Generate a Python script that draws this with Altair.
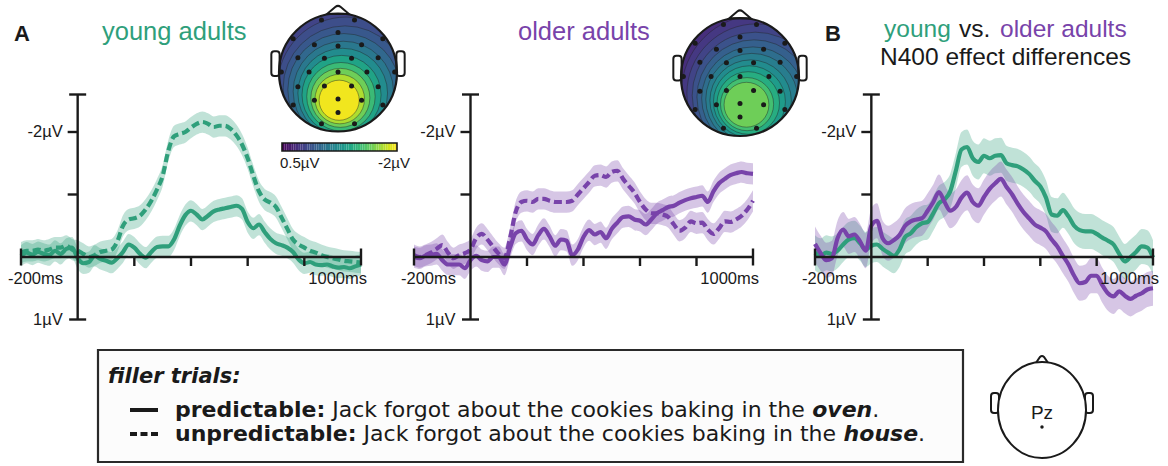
import math

import altair as alt
import numpy as np
import pandas as pd

# ------------------------------------------------------------------
# ERP data at Pz (µV, negative plotted upward), sampled every 20 ms
# ------------------------------------------------------------------
TIMES = list(range(-200, 1001, 20))

young_predictable = [
    -0.02, -0.07, -0.04, -0.08, -0.05, -0.03, -0.10, -0.05, -0.13, -0.15,
    0.02, 0.10, 0.08, -0.02, 0.03, 0.06, 0.09, 0.02, -0.08, -0.20,
    -0.15, -0.05, 0.01, -0.08, -0.16, -0.17, -0.17, -0.28, -0.50, -0.67,
    -0.74, -0.68, -0.60, -0.66, -0.73, -0.76, -0.78, -0.80, -0.82, -0.77,
    -0.56, -0.46, -0.52, -0.40, -0.29, -0.22, -0.19, -0.15, -0.08, 0.04,
    0.10, 0.08, 0.12, 0.13, 0.12, 0.15, 0.17, 0.16, 0.18, 0.15,
    0.12,
]
young_unpredictable = [
    -0.07, -0.10, -0.10, -0.12, -0.10, -0.12, -0.15, -0.15, -0.18, -0.12,
    -0.10, -0.05, 0.00, -0.03, -0.08, -0.10, -0.12, -0.25, -0.50, -0.60,
    -0.62, -0.66, -0.76, -0.90, -1.08, -1.30, -1.70, -1.93, -1.97, -2.00,
    -2.07, -2.13, -2.16, -2.13, -2.08, -2.10, -2.10, -2.05, -1.95, -1.80,
    -1.58, -1.30, -1.05, -0.92, -0.87, -0.80, -0.63, -0.45, -0.28, -0.20,
    -0.15, -0.10, -0.07, -0.03, 0.00, 0.02, 0.04, 0.06, 0.07, 0.08,
    0.09,
]
older_predictable = [
    0.00, 0.02, -0.02, -0.03, -0.05, 0.05, 0.12, 0.12, 0.12, 0.18,
    0.05, -0.02, 0.05, 0.07, 0.00, 0.00, 0.12, -0.15, -0.38, -0.42,
    -0.28, -0.20, -0.35, -0.45, -0.33, -0.18, -0.28, -0.26, -0.03, -0.12,
    -0.32, -0.43, -0.36, -0.40, -0.30, -0.45, -0.55, -0.64, -0.65, -0.60,
    -0.58, -0.52, -0.60, -0.70, -0.75, -0.80, -0.82, -0.87, -0.91, -0.94,
    -0.96, -0.98, -0.88, -1.05, -1.18, -1.25, -1.31, -1.34, -1.36, -1.34,
    -1.33,
]
older_unpredictable = [
    -0.03, 0.00, -0.03, -0.07, -0.13, -0.19, -0.07, 0.02, -0.03, -0.06,
    -0.12, -0.30, -0.37, -0.28, -0.16, -0.05, 0.02, -0.30, -0.72, -0.88,
    -0.90, -0.88, -0.93, -0.93, -0.90, -0.88, -0.88, -0.88, -0.90, -1.00,
    -1.10, -1.20, -1.30, -1.31, -1.28, -1.36, -1.38, -1.25, -1.14, -1.03,
    -0.88, -0.76, -0.70, -0.70, -0.68, -0.64, -0.52, -0.42, -0.47, -0.57,
    -0.54, -0.55, -0.44, -0.37, -0.46, -0.57, -0.56, -0.60, -0.66, -0.76,
    -0.90,
]
# N400 effect (unpredictable minus predictable) per age group
young_effect = [
    -0.07, -0.02, -0.07, -0.05, -0.10, -0.20, -0.28, -0.30, -0.22, -0.12,
    -0.18, -0.20, -0.13, -0.07, -0.02, -0.12, -0.32, -0.38, -0.48, -0.54,
    -0.56, -0.70, -0.86, -0.92, -1.05, -1.38, -1.72, -1.76, -1.58, -1.52,
    -1.62, -1.58, -1.62, -1.63, -1.50, -1.47, -1.45, -1.40, -1.33, -1.22,
    -1.13, -0.95, -0.68, -0.66, -0.75, -0.65, -0.50, -0.43, -0.41, -0.41,
    -0.37, -0.31, -0.26, -0.20, -0.05, 0.07, 0.00, -0.08, -0.17, -0.15,
    0.01,
]
older_effect = [
    -0.21, -0.06, 0.05, 0.02, -0.30, -0.44, -0.33, -0.36, -0.25, -0.10,
    -0.50, -0.58, -0.30, -0.22, -0.27, -0.35, -0.50, -0.57, -0.60, -0.62,
    -0.74, -0.88, -1.04, -0.88, -0.74, -0.80, -0.95, -1.03, -0.88, -0.82,
    -0.96, -1.09, -1.18, -1.25, -1.12, -1.00, -0.85, -0.72, -0.62, -0.52,
    -0.47, -0.41, -0.28, -0.17, -0.02, 0.12, 0.30, 0.42, 0.40, 0.30,
    0.30, 0.45, 0.58, 0.63, 0.55, 0.62, 0.67, 0.62, 0.58, 0.52,
    0.50,
]
# half-width of the shaded confidence bands (µV)
CI_CONDITION = 0.17
CI_EFFECT = 0.28

# ------------------------------------------------------------------
# Scalp maps (N400 window): electrode layout and contour rings,
# in head units (radius 1, y pointing towards the back of the head)
# ------------------------------------------------------------------
ELEC_X = [-0.28, 0.28, -0.76, 0.00, 0.76, -0.40, 0.00, 0.40, -0.68, -0.23,
          0.23, 0.68, -0.96, -0.49, 0.00, 0.49, 0.96, -0.68, -0.23, 0.23,
          0.68, -0.40, 0.00, 0.40, -0.76, 0.76, 0.00, -0.28, 0.28]
ELEC_Y = [-0.89, -0.89, -0.57, -0.68, -0.57, -0.47, -0.45, -0.47, -0.25, -0.24,
          -0.24, -0.25, -0.01, -0.01, -0.01, -0.01, -0.01, 0.24, 0.23, 0.23,
          0.24, 0.47, 0.45, 0.47, 0.55, 0.55, 0.68, 0.87, 0.87]

YOUNG_MAP_LEVEL = [0.10, 0.05, 0.00, -0.08, -0.18, -0.33, -0.50, -0.70, -0.95,
                   -1.20, -1.45, -1.70, -1.95]
YOUNG_MAP_RADIUS = [1.50, 1.38, 1.27, 1.16, 1.05, 0.95, 0.85, 0.76, 0.67, 0.58,
                    0.50, 0.42, 0.34]
YOUNG_MAP_CX = [0.20, 0.18, 0.16, 0.14, 0.12, 0.10, 0.09, 0.08, 0.06, 0.05,
                0.04, 0.03, 0.02]
YOUNG_MAP_CY = [0.10, 0.14, 0.18, 0.22, 0.26, 0.29, 0.32, 0.35, 0.38, 0.41,
                0.43, 0.45, 0.47]

OLDER_MAP_LEVEL = [0.25, 0.175, 0.10, 0.00, -0.125, -0.25, -0.40, -0.55, -0.70,
                   -0.875, -1.05, -1.25, -1.45]
OLDER_MAP_RADIUS = [1.55, 1.42, 1.30, 1.18, 1.07, 0.97, 0.87, 0.78, 0.69, 0.61,
                    0.53, 0.45, 0.38]
OLDER_MAP_CX = [0.35, 0.33, 0.31, 0.28, 0.26, 0.24, 0.22, 0.20, 0.18, 0.16,
                0.14, 0.12, 0.11]
OLDER_MAP_CY = [0.20, 0.22, 0.25, 0.28, 0.31, 0.34, 0.36, 0.38, 0.40, 0.42,
                0.44, 0.46, 0.47]

MAP_RANGE = [0.5, -2.0]  # colour bar limits (µV)

# ------------------------------------------------------------------
# Styling and layout
# ------------------------------------------------------------------
GREEN = "#2f9f7b"
PURPLE = "#7843aa"
INK = "#1a1a1a"
FONT = "Liberation Sans"
LEGEND_FONT = "DejaVu Sans"

H_TOP = 338
H_BOTTOM = 128
Y0_PX = 257          # pixel row of 0 µV
PX_PER_UV = 62.5
HEAD_R = 59

ONE = pd.DataFrame({"k": [0]})
VOLT = alt.Scale(domain=[-Y0_PX / PX_PER_UV, (H_TOP - Y0_PX) / PX_PER_UV],
                 range=[0, H_TOP], nice=False, zero=False)
MAP_COLOR = alt.Scale(scheme="viridis", domain=MAP_RANGE, nice=False)


def time_scale(x0, width, px_left, px_right):
    """Linear ms scale placing -200 ms and 1000 ms at the given pixels."""
    ppm = (px_right - px_left) / 1200.0
    d0 = -200 - (px_left - x0) / ppm
    return alt.Scale(domain=[d0, d0 + width / ppm], nice=False, zero=False)


def erp_layers(xs, series):
    X = alt.X("t:Q", scale=xs, axis=None)
    frames = []
    for values, ci, color, dashed in series:
        df = pd.DataFrame({"t": TIMES, "v": values})
        df["lo"] = df["v"] - ci
        df["hi"] = df["v"] + ci
        frames.append((df, color, dashed))

    layers = []
    for df, color, _ in frames:
        layers.append(
            alt.Chart(df).mark_area(color=color, opacity=0.3, interpolate="monotone")
            .encode(x=X, y=alt.Y("lo:Q", scale=VOLT, axis=None), y2="hi:Q")
        )
    for df, color, dashed in frames:
        style = dict(color=color, strokeWidth=4.2, interpolate="monotone")
        if dashed:
            style["strokeDash"] = [8, 4]
        layers.append(
            alt.Chart(df).mark_line(**style)
            .encode(x=X, y=alt.Y("v:Q", scale=VOLT, axis=None))
        )

    # hand-drawn axes crossing at (0 ms, 0 µV)
    Y = lambda f: alt.Y(f, type="quantitative", scale=VOLT, axis=None)
    layers.append(
        alt.Chart(pd.DataFrame({"t": [-200], "t2": [1000], "v": [0.0]}))
        .mark_rule(color=INK, strokeWidth=2.4)
        .encode(x=X, x2="t2:Q", y=Y("v"))
    )
    layers.append(
        alt.Chart(pd.DataFrame({"t": [0], "v": [-2.6], "v2": [1.0]}))
        .mark_rule(color=INK, strokeWidth=2.4)
        .encode(x=X, y=Y("v"), y2="v2:Q")
    )
    layers.append(
        alt.Chart(pd.DataFrame({"t": [200, 400, 600, 800], "v": [0.0] * 4}))
        .mark_tick(orient="vertical", size=9, thickness=2.4, yOffset=4.5,
                   color=INK, opacity=1)
        .encode(x=X, y=Y("v"))
    )
    layers.append(
        alt.Chart(pd.DataFrame({"t": [-200, 1000], "v": [0.0, 0.0]}))
        .mark_tick(orient="vertical", size=17, thickness=2.4, color=INK, opacity=1)
        .encode(x=X, y=Y("v"))
    )
    layers.append(
        alt.Chart(pd.DataFrame({"t": [0, 0], "v": [-2.0, -1.0]}))
        .mark_tick(orient="horizontal", size=10, thickness=2.4, xOffset=-5,
                   color=INK, opacity=1)
        .encode(x=X, y=Y("v"))
    )
    layers.append(
        alt.Chart(pd.DataFrame({"t": [0, 0], "v": [-2.6, 1.0]}))
        .mark_tick(orient="horizontal", size=17, thickness=2.4, color=INK, opacity=1)
        .encode(x=X, y=Y("v"))
    )
    # tick labels
    layers.append(
        alt.Chart(pd.DataFrame({"t": [-200], "v": [0.0], "lab": ["-200ms"]}))
        .mark_text(align="left", baseline="middle", dx=-13, dy=22, font=FONT,
                   fontSize=16.5, color=INK)
        .encode(x=X, y=Y("v"), text="lab:N")
    )
    layers.append(
        alt.Chart(pd.DataFrame({"t": [1000], "v": [0.0], "lab": ["1000ms"]}))
        .mark_text(align="right", baseline="middle", dx=6, dy=22, font=FONT,
                   fontSize=16.5, color=INK)
        .encode(x=X, y=Y("v"), text="lab:N")
    )
    layers.append(
        alt.Chart(pd.DataFrame({"t": [0, 0], "v": [-2.0, 1.0],
                                "lab": ["-2\u00b5V", "1\u00b5V"]}))
        .mark_text(align="right", baseline="middle", dx=-15, font=FONT,
                   fontSize=16.5, color=INK)
        .encode(x=X, y=Y("v"), text="lab:N")
    )
    return layers


NOSE = "M -1 0.35 L -0.25 -0.3 Q 0 -0.5 0.25 -0.3 L 1 0.35 Z"


def scalp_map_layers(cx, cy, level, radius, ccx, ccy):
    hxs = alt.Scale(domain=[-1, 1], range=[cx - HEAD_R, cx + HEAD_R], nice=False, zero=False)
    hys = alt.Scale(domain=[-1, 1], range=[cy - HEAD_R, cy + HEAD_R], nice=False, zero=False)
    HX = lambda f: alt.X(f, type="quantitative", scale=hxs, axis=None)
    HY = lambda f: alt.Y(f, type="quantitative", scale=hys, axis=None)

    rings = pd.DataFrame({
        "k": list(range(len(level))),
        "hx": ccx, "hy": ccy, "level": level,
        "size": [(2 * r * HEAD_R) ** 2 for r in radius],
    })
    centre = pd.DataFrame({"hx": [0.0], "hy": [0.0]})
    ears = pd.DataFrame({"x1": [-1.13, 0.99], "x2": [-0.99, 1.13],
                         "y1": [-0.36, -0.36], "y2": [0.06, 0.06]})
    nose = pd.DataFrame({"hx": [0.0], "hy": [-1.055]})
    elec = pd.DataFrame({"hx": ELEC_X, "hy": ELEC_Y})

    return [
        alt.Chart(rings).mark_circle(opacity=1, stroke="#222", strokeWidth=0.8,
                                     strokeOpacity=0.55, clip=True)
        .encode(x=HX("hx"), y=HY("hy"), size=alt.Size("size:Q", scale=None),
                color=alt.Color("level:Q", scale=MAP_COLOR, legend=None),
                order=alt.Order("k:Q")),
        # white mask trimming the contour rings to the scalp outline
        alt.Chart(centre).mark_arc(radius=HEAD_R + 64, radius2=HEAD_R, theta=0,
                                   theta2=2 * math.pi, color="white", clip=True)
        .encode(x=HX("hx"), y=HY("hy")),
        alt.Chart(ears).mark_rect(cornerRadius=3, fill="white", stroke=INK, strokeWidth=2)
        .encode(x=HX("x1"), x2="x2:Q", y=HY("y1"), y2="y2:Q"),
        alt.Chart(nose).mark_point(shape=NOSE, size=22 * 22, filled=True, fill="white",
                                   stroke=INK, strokeWidth=2, opacity=1)
        .encode(x=HX("hx"), y=HY("hy")),
        alt.Chart(centre).mark_point(shape="circle", size=(2 * HEAD_R) ** 2, filled=False,
                                     stroke=INK, strokeWidth=2.2, opacity=1)
        .encode(x=HX("hx"), y=HY("hy")),
        alt.Chart(elec).mark_circle(size=25, color=INK, opacity=1)
        .encode(x=HX("hx"), y=HY("hy")),
    ]


def colorbar_layers(x_left, x_right, y_top, y_bottom):
    stops = np.linspace(MAP_RANGE[0], MAP_RANGE[1], 51)
    cb = pd.DataFrame({"a": stops[:-1], "b": stops[1:],
                       "mid": (stops[:-1] + stops[1:]) / 2})
    cbs = alt.Scale(domain=MAP_RANGE, range=[x_left, x_right], nice=False, zero=False)
    return [
        alt.Chart(cb).mark_rect()
        .encode(x=alt.X("a:Q", scale=cbs, axis=None), x2="b:Q",
                y=alt.value(y_top), y2=alt.value(y_bottom),
                color=alt.Color("mid:Q", scale=MAP_COLOR, legend=None)),
        alt.Chart(ONE).mark_rect(fillOpacity=0, stroke=INK, strokeWidth=1.6)
        .encode(x=alt.value(x_left), x2=alt.value(x_right),
                y=alt.value(y_top), y2=alt.value(y_bottom)),
        alt.Chart(ONE).mark_text(text="0.5\u00b5V", align="left", baseline="middle",
                                 font=FONT, fontSize=15, color=INK)
        .encode(x=alt.value(x_left - 2), y=alt.value(y_bottom + 12)),
        alt.Chart(ONE).mark_text(text="-2\u00b5V", align="right", baseline="middle",
                                 font=FONT, fontSize=15, color=INK)
        .encode(x=alt.value(x_right + 13), y=alt.value(y_bottom + 12)),
    ]


def label(text, x, y, size=25.5, color=INK, weight="normal", font=FONT,
          style="normal", align="left", baseline="alphabetic"):
    return (alt.Chart(ONE)
            .mark_text(text=text, font=font, fontSize=size, color=color,
                       fontWeight=weight, fontStyle=style, align=align, baseline=baseline)
            .encode(x=alt.value(x), y=alt.value(y)))


def panel(layers, width):
    return (alt.layer(*layers)
            .resolve_scale(x="independent", y="independent", color="independent")
            .properties(width=width, height=H_TOP))


# ---------------- panel A: young adults ----------------
A_X0, A_W = 0, 410
xs_a = time_scale(A_X0, A_W, 21, 361)
panel_a = panel(
    scalp_map_layers(338, 72.5, YOUNG_MAP_LEVEL, YOUNG_MAP_RADIUS, YOUNG_MAP_CX, YOUNG_MAP_CY)
    + colorbar_layers(282, 397, 143, 151)
    + erp_layers(xs_a, [
        (young_unpredictable, CI_CONDITION, GREEN, True),
        (young_predictable, CI_CONDITION, GREEN, False),
    ])
    + [label("A", 14, 41, size=22, weight="bold"),
       label("young adults", 102, 40, color=GREEN)],
    A_W,
)

# ---------------- older adults ----------------
B_X0, B_W = 410, 400
xs_b = time_scale(B_X0, B_W, 414, 753)
panel_b = panel(
    scalp_map_layers(330, 77, OLDER_MAP_LEVEL, OLDER_MAP_RADIUS, OLDER_MAP_CX, OLDER_MAP_CY)
    + erp_layers(xs_b, [
        (older_unpredictable, CI_CONDITION, PURPLE, True),
        (older_predictable, CI_CONDITION, PURPLE, False),
    ])
    + [label("older adults", 108, 40, color=PURPLE)],
    B_W,
)

# ---------------- panel B: effect differences ----------------
C_X0, C_W = 810, 358
xs_c = time_scale(C_X0, C_W, 815, 1153)
panel_c = panel(
    erp_layers(xs_c, [
        (young_effect, CI_EFFECT, GREEN, False),
        (older_effect, CI_EFFECT, PURPLE, False),
    ])
    + [label("B", 15, 41, size=22, weight="bold"),
       label("young", 74, 37, size=24.5, color=GREEN),
       label("vs.", 149, 37, size=24.5),
       label("older adults", 190, 37, size=24.5, color=PURPLE),
       label("N400 effect differences", 70, 65, size=24.5)],
    C_W,
)

# ---------------- condition legend and electrode site ----------------
LEG = 22
legend_rows = [
    ("predictable:", 175, 72, "bold", "normal"),
    ("Jack forgot about the cookies baking in the", 332.2, 72, "normal", "normal"),
    ("oven", 812.2, 72, "bold", "italic"),
    (".", 872.2, 72, "normal", "normal"),
    ("unpredictable:", 175, 96, "bold", "normal"),
    ("Jack forgot about the cookies baking in the", 363.6, 96, "normal", "normal"),
    ("house", 843.6, 96, "bold", "italic"),
    (".", 918.0, 96, "normal", "normal"),
]
HEAD_OUTLINE = "M 0 -1 A 0.917 1 0 1 1 0 1 A 0.917 1 0 1 1 0 -1 Z"
PZ_NOSE = "M -1 0.6 L -0.25 -0.5 Q 0 -0.75 0.25 -0.5 L 1 0.6 Z"

bottom_layers = [
    alt.Chart(ONE).mark_rect(fill="#fcfcfc", stroke="#2a2a2a", strokeWidth=2.2)
    .encode(x=alt.value(98), x2=alt.value(963), y=alt.value(12), y2=alt.value(124)),
    label("filler trials:", 108, 39, size=21, weight="bold", style="italic",
          font=LEGEND_FONT, baseline="middle"),
    alt.Chart(ONE).mark_rule(color=INK, strokeWidth=4)
    .encode(x=alt.value(130), x2=alt.value(158), y=alt.value(72)),
    alt.Chart(ONE).mark_rule(color=INK, strokeWidth=4, strokeDash=[7, 3.5])
    .encode(x=alt.value(130), x2=alt.value(158), y=alt.value(96)),
]
for text, x, y, weight, style in legend_rows:
    bottom_layers.append(label(text, x, y, size=LEG, weight=weight, style=style,
                               font=LEGEND_FONT, baseline="middle"))
bottom_layers += [
    alt.Chart(ONE).mark_rect(cornerRadius=3, fill="white", stroke=INK, strokeWidth=2)
    .encode(x=alt.value(991), x2=alt.value(999), y=alt.value(55), y2=alt.value(75)),
    alt.Chart(ONE).mark_rect(cornerRadius=3, fill="white", stroke=INK, strokeWidth=2)
    .encode(x=alt.value(1085), x2=alt.value(1093), y=alt.value(55), y2=alt.value(75)),
    alt.Chart(ONE).mark_point(shape=PZ_NOSE, size=16 * 16, filled=True, fill="white",
                              stroke=INK, strokeWidth=2, opacity=1)
    .encode(x=alt.value(1042), y=alt.value(23)),
    alt.Chart(ONE).mark_point(shape=HEAD_OUTLINE, size=96 * 96, filled=True, fill="white",
                              stroke=INK, strokeWidth=2, opacity=1)
    .encode(x=alt.value(1042), y=alt.value(72)),
    label("Pz", 1042, 75, size=19, align="center", baseline="middle"),
    alt.Chart(ONE).mark_circle(size=12, color=INK, opacity=1)
    .encode(x=alt.value(1042), y=alt.value(89)),
]
bottom = alt.layer(*bottom_layers).properties(width=1168, height=H_BOTTOM)

top = alt.hconcat(panel_a, panel_b, panel_c, spacing=0, bounds="flush")
chart = (
    alt.vconcat(top, bottom, spacing=0)
    .properties(padding=0, background="white")
    .configure_view(stroke=None)
)
chart.save("out.html", embed_options={"renderer": "svg", "actions": False})
